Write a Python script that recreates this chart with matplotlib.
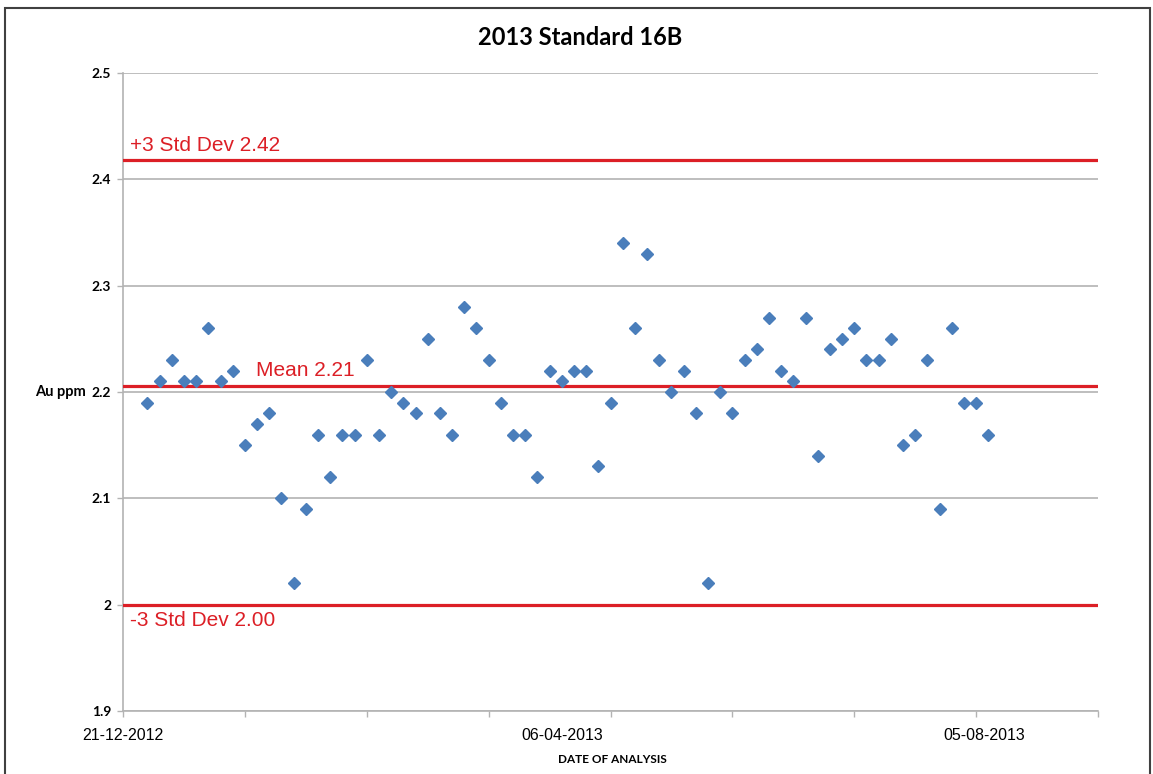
import numpy as np
import matplotlib
matplotlib.use("Agg")
import matplotlib.pyplot as plt
from matplotlib.patches import Rectangle

# Au ppm results for Standard 16B, in order of analysis
au_ppm = [
    2.19, 2.21, 2.23, 2.21, 2.21, 2.26, 2.21, 2.22, 2.15, 2.17,
    2.18, 2.10, 2.02, 2.09, 2.16, 2.12, 2.16, 2.16, 2.23, 2.16,
    2.20, 2.19, 2.18, 2.25, 2.18, 2.16, 2.28, 2.26, 2.23, 2.19,
    2.16, 2.16, 2.12, 2.22, 2.21, 2.22, 2.22, 2.13, 2.19, 2.34,
    2.26, 2.33, 2.23, 2.20, 2.22, 2.18, 2.02, 2.20, 2.18, 2.23,
    2.24, 2.27, 2.22, 2.21, 2.27, 2.14, 2.24, 2.25, 2.26, 2.23,
    2.23, 2.25, 2.15, 2.16, 2.23, 2.09, 2.26, 2.19, 2.19, 2.16,
]
first_slot = 2
n_slots = 80

# control limits
ctrl_names = ["+3 Std Dev 2.42", "Mean 2.21", "-3 Std Dev 2.00"]
ctrl_levels = [2.418, 2.206, 2.0]

date_label_pos = [0, 36, 70.7]
date_labels = ["21-12-2012", "06-04-2013", "05-08-2013"]

RED = "#dc1f26"
BLUE = "#4a7ebb"
GRID = "#b3b3b3"

fig = plt.figure(figsize=(11.53, 7.74), dpi=100)
ax = fig.add_axes([0.1067, 0.0814, 0.8456, 0.8243])

x = np.arange(len(au_ppm)) + first_slot
ax.plot(x, au_ppm, linestyle="none", marker="D", markersize=6.5,
        color=BLUE, zorder=4)

for lvl in ctrl_levels:
    ax.plot([0, n_slots], [lvl, lvl], color=RED, linewidth=2.3, zorder=3)

# labels of the limit lines
lab_kw = dict(color=RED, fontsize=15, family="Liberation Sans", ha="left")
ax.text(0.6, ctrl_levels[0] + 0.005, ctrl_names[0], va="bottom", **lab_kw)
ax.text(10.9, ctrl_levels[1] + 0.005, ctrl_names[1], va="bottom", **lab_kw)
ax.text(0.6, ctrl_levels[2] - 0.006, ctrl_names[2], va="top", **lab_kw)

ax.set_xlim(0, n_slots)
ax.set_ylim(1.9, 2.5)
ax.set_yticks(np.arange(1.9, 2.501, 0.1))
ax.set_yticklabels(["1.9", "2", "2.1", "2.2", "2.3", "2.4", "2.5"],
                   fontsize=10, fontweight="bold", family="Lato")
ax.set_xticks(np.arange(0, n_slots + 1, 10))
ax.set_xticklabels([])
for pos, lab in zip(date_label_pos, date_labels):
    ax.text(pos, -0.038, lab, transform=ax.get_xaxis_transform(),
            ha="center", va="center", fontsize=11.5,
            family=["Liberation Sans Narrow", "Liberation Sans"])

ax.tick_params(axis="both", length=4, width=1, color=GRID, direction="out")
ax.tick_params(axis="y", pad=4.5)
ax.grid(axis="y", color=GRID, linewidth=1.2)
ax.set_axisbelow(True)
for side in ["top", "right"]:
    ax.spines[side].set_visible(False)
for side in ["left", "bottom"]:
    ax.spines[side].set_color(GRID)
    ax.spines[side].set_linewidth(1.2)

ax.text(-0.038, 0.5, "Au ppm", transform=ax.transAxes, ha="right",
        va="center", fontsize=10.5, fontweight="bold", family="Lato")

fig.text(0.503, 0.951, "2013 Standard 16B", ha="center", va="center",
         fontsize=17, fontweight="bold", family="Lato")
fig.text(0.531, 0.019, "DATE OF ANALYSIS", ha="center", va="center",
         fontsize=8.5, fontweight="bold",
         family=["Liberation Sans Narrow", "Lato"])

# outer frame of the picture
fig.patches.append(Rectangle((0.0045, -0.02), 0.993, 1.0097, fill=False,
                             edgecolor="#404040", linewidth=1.5,
                             transform=fig.transFigure))

fig.savefig("out.png", dpi=100)
